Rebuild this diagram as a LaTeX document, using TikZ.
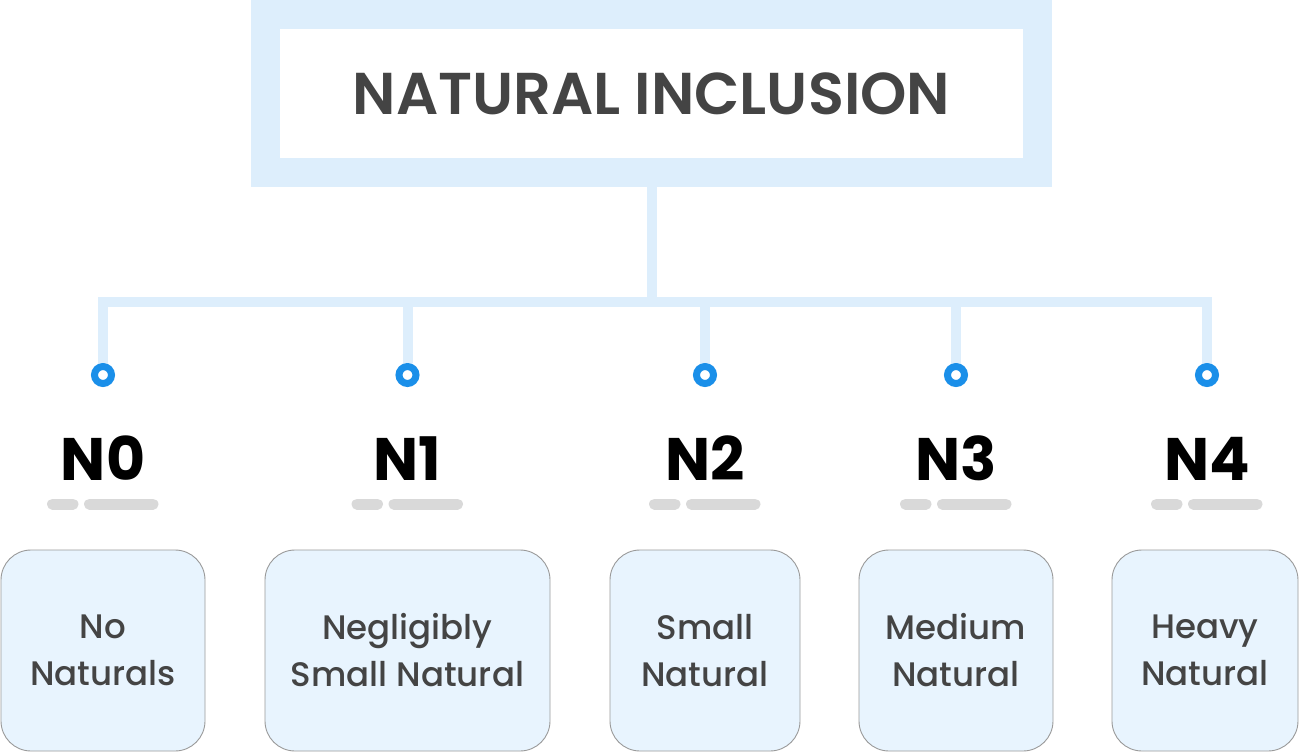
\documentclass[tikz,border=0pt]{standalone}
\usepackage{fontspec}
\setmainfont{Poppins}
\newfontfamily\titlefont{Poppins SemiBold}
\newfontfamily\labfont{Poppins Bold}
\newfontfamily\boxfont{Poppins Medium}
\definecolor{lightblue}{HTML}{DDEEFC}
\definecolor{boxfill}{HTML}{E8F4FE}
\definecolor{boxline}{HTML}{9A9A9A}
\definecolor{dotblue}{HTML}{1A8FE9}
\definecolor{txt}{HTML}{444444}
\definecolor{bargrey}{HTML}{D9D9D9}
\begin{document}
\begin{tikzpicture}[x=1pt,y=-1pt,
  titlebox/.style={draw=lightblue, line width=29pt, fill=white, minimum width=772pt, minimum height=157pt, inner sep=0pt,
    text=txt, font={\titlefont\fontsize{59}{59}\selectfont}, text height=42pt, text depth=0pt},
  conn/.style={draw=lightblue, line width=10pt, line join=miter},
  dotnode/.style={circle, draw=dotblue, line width=7pt, fill=white, minimum size=17pt, inner sep=0pt},
  lab/.style={anchor=base, inner sep=0pt, text=black, font={\labfont\fontsize{60}{60}\selectfont}},
  catbox/.style={draw=boxline, line width=0.9pt, fill=boxfill, rounded corners=30pt, minimum height=201pt, inner sep=0pt,
    align=center, text=txt, font={\boxfont\fontsize{34}{47}\selectfont}},
  bar/.style={draw=bargrey, line width=11pt, line cap=round}
]
\useasboundingbox (0,0) rectangle (1302,752);

\node[titlebox] (title) at (651.5,93.5) {NATURAL INCLUSION};
\coordinate (hub) at (652,302);

\foreach \i/\x in {0/103,1/407.5,2/705,3/956,4/1207}{
  \node[dotnode] (d\i) at (\x,375) {};
  \node[lab] (n\i) at (\x,480) {N\i};
  \draw[bar] (\x-50.5,504) -- (\x-30,504);
  \draw[bar] (\x-13.5,504) -- (\x+50,504);
}

\node[catbox, minimum width=204pt] (b0) at (103,650.5) {No\\Naturals};
\node[catbox, minimum width=285pt] (b1) at (407.5,650.5) {Negligibly\\Small Natural};
\node[catbox, minimum width=190pt] (b2) at (705,650.5) {Small\\Natural};
\node[catbox, minimum width=194pt] (b3) at (956,650.5) {Medium\\Natural};
\node[catbox, minimum width=186pt] (b4) at (1205,650.5) {Heavy\\Natural};

\draw[conn] (title.south) -- (title.south |- hub);
\draw[conn] (d0.north) -- (d0.north |- hub) -- (d4.north |- hub) -- (d4.north);
\draw[conn] (d1.north) -- (d1.north |- hub);
\draw[conn] (d2.north) -- (d2.north |- hub);
\draw[conn] (d3.north) -- (d3.north |- hub);
\end{tikzpicture}
\end{document}
